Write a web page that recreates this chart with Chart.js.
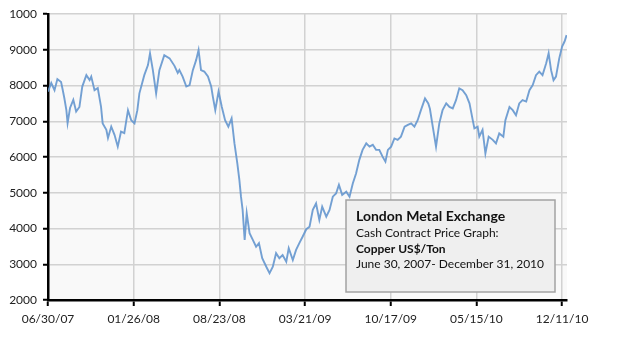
<!DOCTYPE html>
<html>
<head>
<meta charset="utf-8">
<script src="https://cdn.jsdelivr.net/npm/chart.js@4"></script>
<style>
  html, body { margin: 0; padding: 0; background: #fff; }
</style>
</head>
<body>
<canvas id="copperChart" width="625" height="341"></canvas>
<script>
// LME copper cash price, days counted from 06/30/07
const days = [
  0, 8, 16, 23, 32, 36, 40, 45, 48, 54, 62, 69, 77, 84, 94, 102, 106, 114, 122, 130,
  134, 143, 147, 155, 163, 171, 179, 187, 196, 204, 212, 219, 224, 236, 245, 250, 257, 265, 273, 285,
  298, 310, 318, 322, 330, 339, 347, 355, 363, 369, 375, 383, 392, 400, 404, 410, 418, 426, 434, 442,
  450, 457, 464, 469, 473, 477, 482, 487, 494, 502, 510, 517, 525, 535, 543, 551, 559, 567, 575, 584,
  590, 600, 608, 616, 624, 633, 641, 649, 657, 665, 672, 682, 690, 698, 706, 713, 721, 731, 739, 747,
  755, 763, 771, 780, 788, 796, 804, 812, 820, 827, 833, 841, 849, 857, 865, 874, 882, 890, 898, 906,
  914, 924, 932, 936, 943, 951, 959, 967, 976, 984, 992, 1000, 1008, 1016, 1025, 1033, 1041, 1045, 1053, 1057,
  1065, 1072, 1080, 1090, 1098, 1106, 1116, 1121, 1131, 1139, 1147, 1155, 1163, 1172, 1180, 1188, 1196, 1204, 1212, 1221,
  1227, 1233, 1239, 1245, 1253, 1260, 1266, 1271
];
const prices = [
  7830, 8070, 7870, 8180, 8100, 7880, 7650, 7310, 6950, 7370, 7600, 7270, 7400, 7970, 8290, 8150, 8250, 7870, 7930, 7400,
  6940, 6760, 6530, 6850, 6620, 6290, 6710, 6670, 7310, 7030, 6940, 7310, 7780, 8290, 8570, 8900, 8430, 7780, 8430, 8850,
  8760, 8550, 8350, 8430, 8250, 7970, 8010, 8430, 8710, 8990, 8430, 8390, 8250, 7970, 7690, 7310, 7830, 7400, 7030, 6850,
  7080, 6380, 5820, 5360, 4890, 4520, 3680, 4430, 3870, 3680, 3490, 3590, 3170, 2930, 2750, 2930, 3310, 3170, 3260, 3070,
  3450, 3120, 3400, 3590, 3770, 3980, 4050, 4520, 4700, 4240, 4610, 4330, 4520, 4890, 4980, 5220, 4940, 5030, 4890, 5260,
  5540, 5920, 6200, 6380, 6290, 6340, 6200, 6200, 6010, 5870, 6200, 6290, 6520, 6480, 6570, 6850, 6900, 6940, 6850, 7030,
  7310, 7640, 7500, 7350, 6850, 6290, 6940, 7310, 7500, 7400, 7360, 7590, 7920, 7870, 7730, 7500, 7030, 6800, 6850, 6570,
  6760, 6100, 6570, 6480, 6380, 6660, 6570, 7030, 7400, 7310, 7170, 7500, 7590, 7550, 7870, 8010, 8290, 8390, 8290, 8620,
  8900, 8430, 8150, 8250, 8760, 9090, 9230, 9410
];

const tickDays = [0, 210, 420, 630, 840, 1050, 1260];
const tickLabels = ['06/30/07', '01/26/08', '08/23/08', '03/21/09', '10/17/09', '05/15/10', '12/11/10'];
const yTickLabels = ['2000', '3000', '4000', '5000', '6000', '7000', '8000', '9000', '1000'];

const boxLines = [
  { text: 'London Metal Exchange', font: 'bold 14px Lato' },
  { text: 'Cash Contract Price Graph:', font: '12px Lato' },
  { text: 'Copper US$/Ton', font: 'bold 12px Lato' },
  { text: 'June 30, 2007- December 31, 2010', font: '12px Lato' }
];

const plotBackground = {
  id: 'plotBackground',
  beforeDraw(chart) {
    const { ctx, chartArea: a } = chart;
    ctx.save();
    ctx.fillStyle = '#f9f9f9';
    ctx.fillRect(a.left, a.top, a.right - a.left, a.bottom - a.top);
    ctx.restore();
  }
};

const infoBox = {
  id: 'infoBox',
  afterDraw(chart) {
    const { ctx, chartArea: a } = chart;
    const x = a.left + 298, y = a.top + 186, w = 209, h = 92;
    ctx.save();
    ctx.fillStyle = '#efefef';
    ctx.strokeStyle = '#a3a3a3';
    ctx.lineWidth = 1.5;
    ctx.fillRect(x, y, w, h);
    ctx.strokeRect(x, y, w, h);
    ctx.fillStyle = '#111';
    ctx.textBaseline = 'alphabetic';
    const baselines = [21, 37, 53, 68];
    boxLines.forEach((l, i) => {
      ctx.font = l.font;
      ctx.fillText(l.text, x + 10, y + baselines[i]);
    });
    ctx.restore();
  }
};

new Chart(document.getElementById('copperChart'), {
  type: 'line',
  data: {
    datasets: [{
      data: days.map((d, i) => ({ x: d, y: prices[i] })),
      borderColor: 'rgba(100, 150, 206, 0.9)',
      borderWidth: 1.9,
      pointRadius: 0,
      tension: 0,
      fill: false
    }]
  },
  options: {
    responsive: false,
    animation: false,
    layout: { padding: { left: 0, top: 14, right: 58, bottom: 0 } },
    plugins: {
      legend: { display: false },
      tooltip: { enabled: false }
    },
    scales: {
      x: {
        type: 'linear',
        min: 0,
        max: 1272,
        afterBuildTicks: axis => { axis.ticks = tickDays.map(v => ({ value: v })); },
        afterFit: s => { s.height = 41; },
        ticks: {
          callback: (v, i) => tickLabels[i],
          font: { family: 'Lato', size: 12 },
          color: '#222',
          padding: 6,
          maxRotation: 0
        },
        grid: { color: '#d2d2d2', lineWidth: 1.5, tickColor: '#000', tickLength: 6, tickWidth: 2 },
        border: { color: '#000', width: 2.5 }
      },
      y: {
        min: 2000,
        max: 10000,
        afterFit: s => { s.width = 48; },
        ticks: {
          stepSize: 1000,
          callback: (v, i) => yTickLabels[i],
          font: { family: 'Lato', size: 12 },
          color: '#222',
          padding: 6
        },
        grid: { color: '#d2d2d2', lineWidth: 1.5, tickColor: '#000', tickLength: 5, tickWidth: 2 },
        border: { color: '#000', width: 2.5 }
      }
    }
  },
  plugins: [plotBackground, infoBox]
});
</script>
</body>
</html>
